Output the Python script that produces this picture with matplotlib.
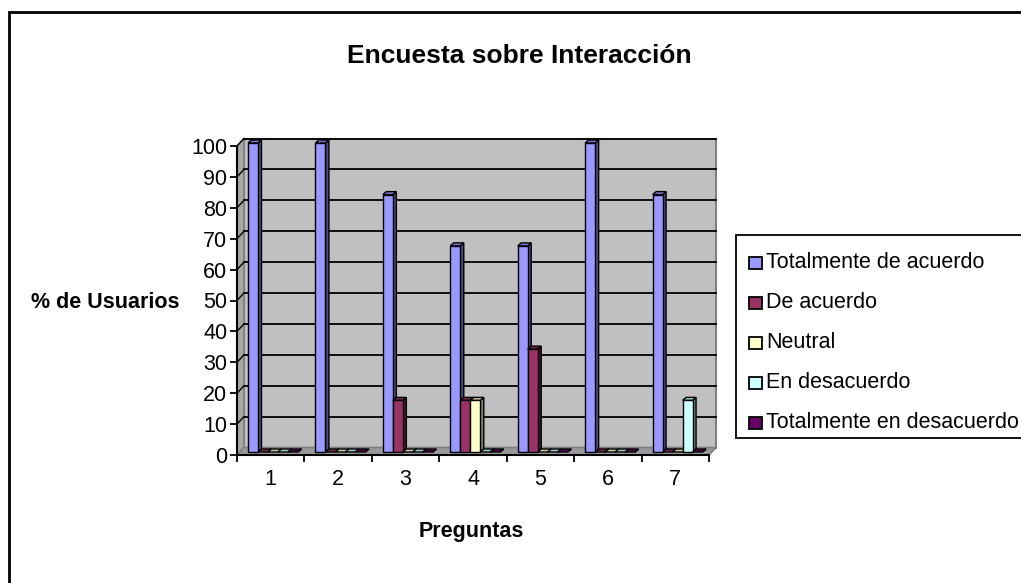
"""
Encuesta sobre Interacción: grouped 3D-look column chart (Excel style).
Output: out.png
"""

import matplotlib
matplotlib.use("Agg")
import matplotlib.pyplot as plt
from matplotlib.patches import Polygon, Rectangle
from matplotlib.colors import to_rgb

plt.rcParams["font.family"] = ["Liberation Sans", "DejaVu Sans"]

W, H = 1021, 583

preguntas = ["1", "2", "3", "4", "5", "6", "7"]
series = [
    "Totalmente de acuerdo",
    "De acuerdo",
    "Neutral",
    "En desacuerdo",
    "Totalmente en desacuerdo",
]
totalmente_de_acuerdo = [100, 100, 83.3, 66.7, 66.7, 100, 83.3]
de_acuerdo = [0, 0, 16.7, 16.7, 33.3, 0, 0]
neutral = [0, 0, 0, 16.7, 0, 0, 0]
en_desacuerdo = [0, 0, 0, 0, 0, 0, 16.7]
totalmente_en_desacuerdo = [0, 0, 0, 0, 0, 0, 0]
values = [totalmente_de_acuerdo, de_acuerdo, neutral, en_desacuerdo,
          totalmente_en_desacuerdo]

COLORS = ["#9999FF", "#993366", "#FFFFCC", "#CCFFFF", "#660066"]


def shade(c, f):
    r, g, b = to_rgb(c)
    return (r * f, g * f, b * f)


def fx(x):
    return x / W


def fy(y):
    return 1 - y / H


fig = plt.figure(figsize=(W / 100, H / 100), dpi=100)

# outer chart frame (only left/top edges fall inside the picture)
fig.patches.append(Rectangle((fx(9), fy(600)), 1.2, fy(12) - fy(600),
                             transform=fig.transFigure, fill=False,
                             edgecolor="black", linewidth=2))

# axes = front plane of the plot
x0, x1, y0, y1 = 237, 709, 455, 146
ax = fig.add_axes([fx(x0), fy(y0), fx(x1) - fx(x0), fy(y1) - fy(y0)])
ax.set_xlim(0, 7)
ax.set_ylim(0, 100)
ax.patch.set_visible(False)
for s in ("top", "right"):
    ax.spines[s].set_visible(False)
for s in ("left", "bottom"):
    ax.spines[s].set_linewidth(1.5)
    ax.spines[s].set_zorder(10)

px_x = 7 / (x1 - x0)
px_y = 100 / (y0 - y1)
wdx, wdy = 7 * px_x, 7.5 * px_y      # wall depth
gray_edge = "#808080"

# back wall, left wall and floor
ax.add_patch(Polygon([(wdx, wdy), (7 + wdx, wdy), (7 + wdx, 100 + wdy), (wdx, 100 + wdy)],
                     closed=True, facecolor="#C0C0C0", edgecolor=gray_edge,
                     linewidth=1.5, clip_on=False, zorder=1))
ax.add_patch(Polygon([(0, 0), (wdx, wdy), (wdx, 100 + wdy), (0, 100)],
                     closed=True, facecolor="#A6A6A6", edgecolor=gray_edge,
                     linewidth=1.2, clip_on=False, zorder=1))
ax.add_patch(Polygon([(0, 0), (7, 0), (7 + wdx, wdy), (wdx, wdy)],
                     closed=True, facecolor="#999999", edgecolor=gray_edge,
                     linewidth=1.2, clip_on=False, zorder=1))

# gridlines on back wall and left wall
for v in range(10, 101, 10):
    ax.plot([wdx, 7 + wdx], [v + wdy, v + wdy], color="black", lw=1.3,
            clip_on=False, zorder=2)
    ax.plot([0, wdx], [v, v + wdy], color="black", lw=1.0, clip_on=False, zorder=2)

# bars
bw = 10 * px_x
sdx, sdy = 3.5 * px_x, 3 * px_y
bdx, bdy = 3.5 * px_x, 3 * px_y
for i in range(len(preguntas)):
    for k, (vals, col) in enumerate(zip(values, COLORS)):
        h = vals[i]
        bx = i + 7.5 * px_x + k * bw + bdx
        by = bdy
        z = 3 + i * 10 + k
        ax.add_patch(Polygon([(bx + bw, by), (bx + bw + sdx, by + sdy),
                              (bx + bw + sdx, by + h + sdy), (bx + bw, by + h)],
                             closed=True, facecolor=shade(col, 0.5),
                             edgecolor="black", linewidth=1.0, clip_on=False, zorder=z))
        ax.add_patch(Polygon([(bx, by + h), (bx + bw, by + h),
                              (bx + bw + sdx, by + h + sdy), (bx + sdx, by + h + sdy)],
                             closed=True, facecolor=shade(col, 0.8),
                             edgecolor="black", linewidth=1.0, clip_on=False, zorder=z))
        if h > 0:
            ax.add_patch(Rectangle((bx, by), bw, h, facecolor=col,
                                   edgecolor="black", linewidth=1.0,
                                   clip_on=False, zorder=z + 0.5))

# ticks
ax.set_yticks(range(0, 101, 10))
ax.tick_params(axis="y", direction="out", length=5, width=1.3, labelsize=15.5, pad=2)
ax.set_xticks(range(0, 8))
ax.set_xticklabels([])
ax.tick_params(axis="x", direction="out", length=5, width=1.3)
ax.set_xticks([i + 0.5 for i in range(7)], minor=True)
ax.set_xticklabels(preguntas, minor=True)
ax.tick_params(axis="x", which="minor", length=0, labelsize=15.5, pad=10)

# texts
fig.text(fx(519), fy(56), "Encuesta sobre Interacción", ha="center", va="center",
         fontsize=19, fontweight="bold")
fig.text(fx(105), fy(302), "% de Usuarios", ha="center", va="center",
         fontsize=15.5, fontweight="bold")
fig.text(fx(471), fy(531), "Preguntas", ha="center", va="center",
         fontsize=15.5, fontweight="bold")

# legend (clipped at the right edge like the original)
fig.patches.append(Rectangle((fx(736), fy(438)), 0.5, fy(235) - fy(438),
                             transform=fig.transFigure, facecolor="white",
                             edgecolor="black", linewidth=1.3))
for k, (name, col) in enumerate(zip(series, COLORS)):
    yy = 263 + k * 40
    fig.patches.append(Rectangle((fx(749), fy(yy + 6)), fx(762) - fx(749), fy(yy - 6) - fy(yy + 6),
                                 transform=fig.transFigure, facecolor=col,
                                 edgecolor="black", linewidth=1.3))
    fig.text(fx(766), fy(yy), name, ha="left", va="center", fontsize=15.5)

fig.savefig("out.png", dpi=100)
